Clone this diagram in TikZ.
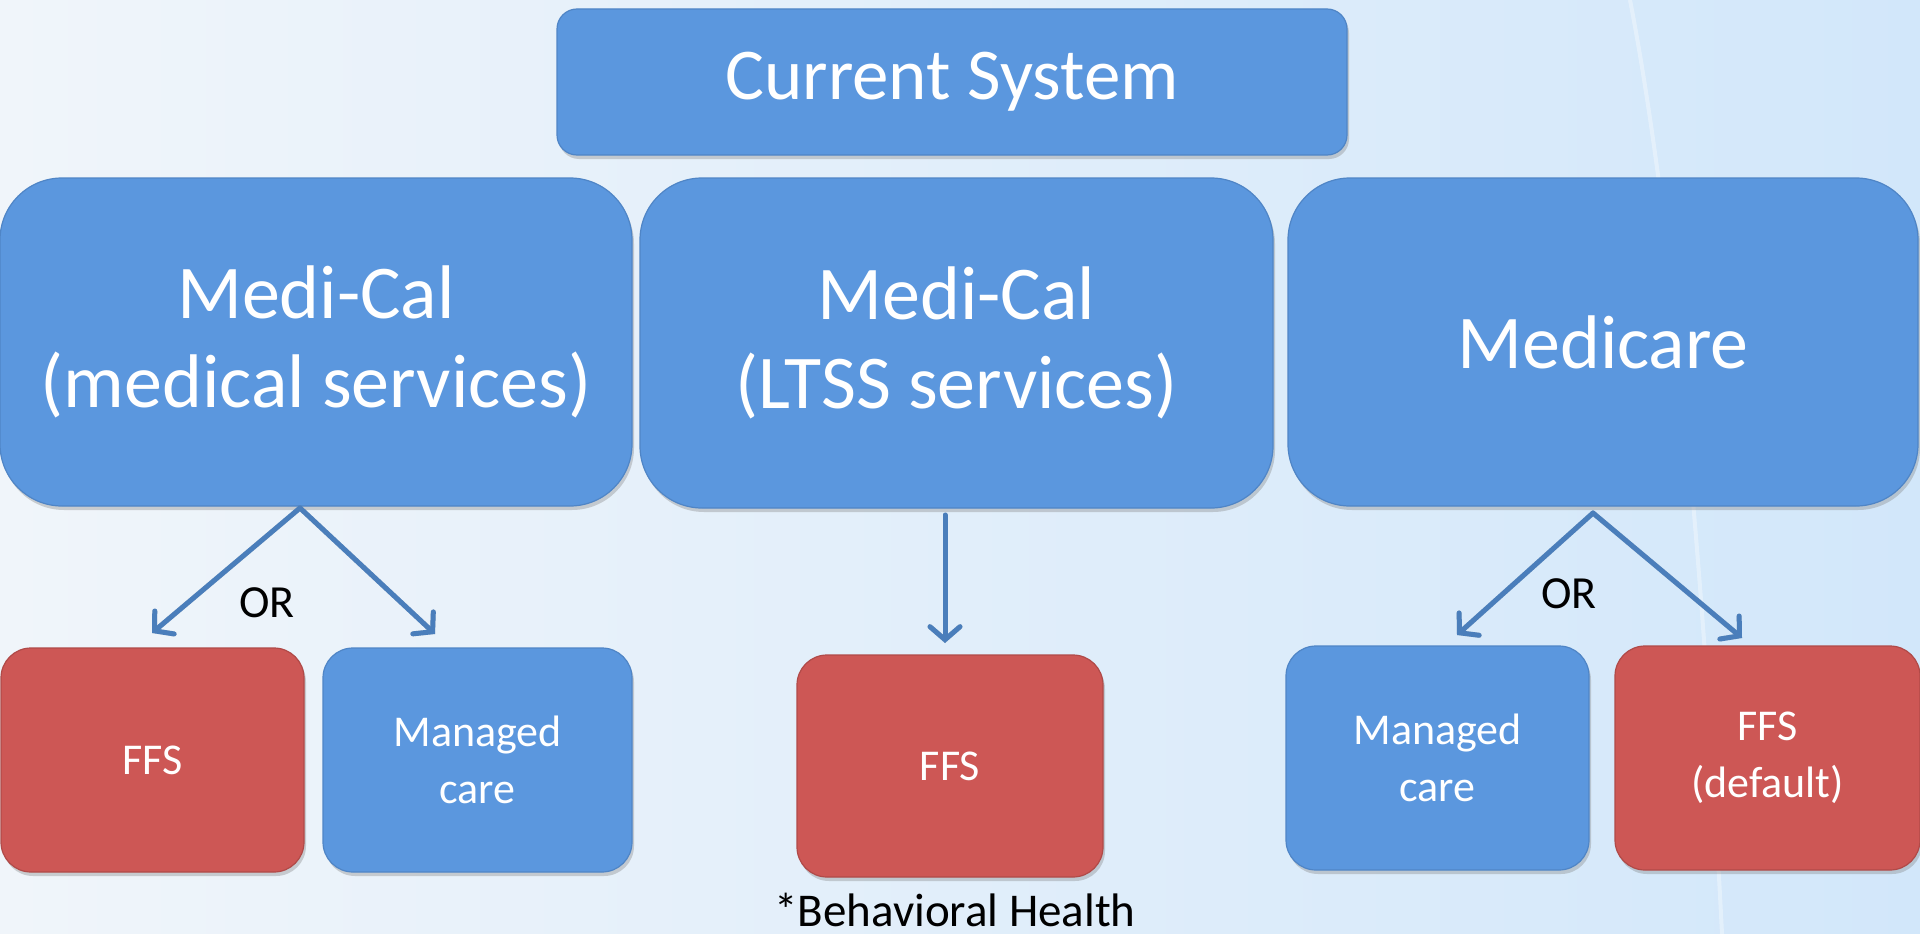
\documentclass[tikz,border=0pt]{standalone}
\usepackage{fontspec}
\setmainfont{Carlito}
\usetikzlibrary{arrows.meta,shadows}
\definecolor{boxblue}{HTML}{5B97DE}
\definecolor{boxblueedge}{HTML}{4F85C6}
\definecolor{boxred}{HTML}{CD5755}
\definecolor{boxrededge}{HTML}{B04A48}
\definecolor{arrowblue}{HTML}{4A7EBB}
\definecolor{bgL}{HTML}{F0F5FA}
\definecolor{bgR}{HTML}{D2E7FA}
\tikzset{
  boxbase/.style={draw, line width=1.2pt, text=white, align=center, inner sep=0pt,
    drop shadow={shadow xshift=2pt, shadow yshift=-4pt, opacity=0.35}},
  bluebox/.style={boxbase, fill=boxblue, draw=boxblueedge},
  redbox/.style={boxbase, fill=boxred, draw=boxrededge},
  bigfont/.style={font=\fontsize{76}{89}\selectfont},
  smallfont/.style={font=\fontsize{44}{57}\selectfont},
  conn/.style={draw=arrowblue, line width=5pt, line cap=round, line join=round,
    -{Straight Barb[length=13pt, width=30pt, line cap=round]}},
  connshadow/.style={draw=black!45, opacity=0.35, line width=5pt, line cap=round, line join=round,
    -{Straight Barb[length=13pt, width=30pt, line cap=round]}, shift={(2pt,-3pt)}},
  lbl/.style={text=black, inner sep=0pt}
}
\begin{document}
\begin{tikzpicture}[x=1pt,y=-1pt]
\useasboundingbox (0,0) rectangle (1920,934);
\shade[left color=bgL, right color=bgR] (0,0) rectangle (1920,934);
\draw[white, opacity=0.35, line width=4pt] (1630,0) .. controls (1665,180) and (1700,500) .. (1722,934);

% top
\node[bluebox, rounded corners=20pt, minimum width=790pt, minimum height=146pt,
  font=\fontsize{73}{86}\selectfont] (cs) at (952,82) {Current System};

% middle row
\node[bluebox, bigfont, rounded corners=62pt, minimum width=632pt, minimum height=328pt]
  (mcm) at (316,342) {Medi-Cal\\(medical services)};
\node[bluebox, bigfont, rounded corners=62pt, minimum width=633pt, minimum height=330pt]
  (ltss) at (956.5,343) {Medi-Cal\\(LTSS services)};
\node[bluebox, bigfont, rounded corners=62pt, minimum width=630pt, minimum height=328pt]
  (mcare) at (1603,342) {Medicare};

% bottom row
\node[redbox, smallfont, rounded corners=30pt, minimum width=303pt, minimum height=224pt]
  (ffsa) at (152.5,760) {FFS};
\node[bluebox, smallfont, rounded corners=30pt, minimum width=309pt, minimum height=224pt]
  (mga) at (477.5,760) {Managed\\care};
\node[redbox, smallfont, rounded corners=30pt, minimum width=306pt, minimum height=222pt]
  (ffsb) at (950,766) {FFS};
\node[bluebox, smallfont, rounded corners=30pt, minimum width=303pt, minimum height=224pt]
  (mgb) at (1437.5,758) {Managed\\care};
\node[redbox, smallfont, rounded corners=30pt, minimum width=305pt, minimum height=224pt]
  (ffsc) at (1767.5,758) {FFS\\(default)};

% connector points
\coordinate (apexa) at (300,508);
\coordinate (tipa1) at (152,633);
\coordinate (tipa2) at (435,634);
\coordinate (topb) at (945,515);
\coordinate (tipb) at (945,643);
\coordinate (apexc) at (1593,513);
\coordinate (tipc1) at (1457,635);
\coordinate (tipc2) at (1742,638);

% shadows of connectors
\draw[connshadow] (apexa) -- (tipa1);
\draw[connshadow] (apexa) -- (tipa2);
\draw[connshadow] (topb) -- (tipb);
\draw[connshadow] (apexc) -- (tipc1);
\draw[connshadow] (apexc) -- (tipc2);
% connectors
\draw[conn] (apexa) -- (tipa1);
\draw[conn] (apexa) -- (tipa2);
\draw[conn] (topb) -- (tipb);
\draw[conn] (apexc) -- (tipc1);
\draw[conn] (apexc) -- (tipc2);

% labels
\node[lbl, font=\fontsize{46}{54}\selectfont] (ora) at (267,603) {OR};
\node[lbl, font=\fontsize{46}{54}\selectfont] (orc) at (1569,594) {OR};
\node[lbl, font=\fontsize{47}{55}\selectfont, anchor=base] (bh) at (955,926) {*Behavioral Health};
\end{tikzpicture}
\end{document}
